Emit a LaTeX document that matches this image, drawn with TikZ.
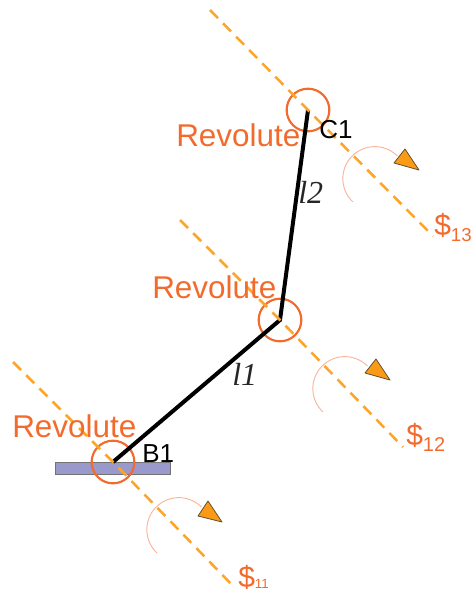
\documentclass[tikz,border=0pt]{standalone}
\usepackage{fontspec}
\setmainfont{Liberation Sans}
\newfontfamily\linkfont[Ligatures=TeX]{Liberation Serif}
\definecolor{jointred}{HTML}{F26B2D}
\definecolor{axisorange}{HTML}{FDA52B}
\definecolor{arcpink}{HTML}{F9B49A}
\definecolor{tipfill}{HTML}{FB9A16}
\definecolor{tipedge}{HTML}{5F5030}
\definecolor{basefill}{HTML}{9999CC}
\tikzset{
    jointcircle/.style={draw=jointred, line width=1.6pt, circle, inner sep=0pt, minimum size=32pt},
    linkline/.style={line width=3pt, black},
    axisline/.style={line width=1.9pt, axisorange, dash pattern=on 8.5pt off 5.5pt},
    twist/.style={line width=0.7pt, arcpink},
    twisttip/.style={draw=tipedge, line width=0.6pt, fill=tipfill, line join=round},
    jointlabel/.style={text=jointred, inner sep=0pt, anchor=base west, font=\fontsize{23.6}{24}\selectfont},
    pointlabel/.style={text=black, inner sep=0pt, anchor=base west, font=\fontsize{19.5}{22}\selectfont},
    lengthlabel/.style={text=black!85, inner sep=0pt, anchor=base west, font=\fontsize{24}{26}\linkfont\itshape},
    screwlabel/.style={text=jointred, inner sep=0pt, anchor=base west, font=\fontsize{22.5}{24}\selectfont}
}
\begin{document}
\begin{tikzpicture}[x=0.75pt, y=-0.75pt]
    \useasboundingbox (0, 0) rectangle (472, 594);

    % base
    \draw[draw=black!55, line width=0.6pt, fill=basefill] (55, 462) rectangle (170, 474);

    % joint circles
    \node[jointcircle] (b1) at (113, 462) {};
    \node[jointcircle] (j2) at (280, 320) {};
    \node[jointcircle] (c1) at (308, 110) {};

    % links
    \draw[linkline] (b1.center) -- (j2.center) -- (c1.center);

    % axes
    \coordinate (axis1a) at (13, 362);
    \coordinate (axis1b) at (235, 588);
    \coordinate (axis2a) at (180, 220);
    \coordinate (axis2b) at (403, 447);
    \coordinate (axis3a) at (210, 10);
    \coordinate (axis3b) at (433, 236);
    \draw[axisline] (axis1a) -- (b1.center) -- (axis1b);
    \draw[axisline] (axis2a) -- (j2.center) -- (axis2b);
    \draw[axisline] (axis3a) -- (c1.center) -- (axis3b);

    % twist arcs and tips
    \draw[twist] (157, 553) arc (133:315:32);
    \draw[twisttip] (208, 501) -- (198, 516) -- (222, 522) -- cycle;
    \draw[twist] (323, 412) arc (133:315:32);
    \draw[twisttip] (376, 359) -- (365, 373) -- (390, 380) -- cycle;
    \draw[twist] (353, 202) arc (133:315:32);
    \draw[twisttip] (405, 149) -- (394, 163) -- (419, 170) -- cycle;

    % labels
    \node[jointlabel] (rev1) at (12, 437) {Revolute};
    \node[jointlabel] (rev2) at (152, 298) {Revolute};
    \node[jointlabel] (rev3) at (176, 146) {Revolute};
    \node[pointlabel] (lb1) at (142, 462) {B1};
    \node[pointlabel] (lc1) at (319, 138) {C1};
    \node[lengthlabel] (l1) at (232, 385) {l1};
    \node[lengthlabel] (l2) at (298, 203) {l2};
    \node[screwlabel] (s13) at (434, 235) {\$\raisebox{-5pt}{\fontsize{14}{16}\selectfont 13}};
    \node[screwlabel] (s12) at (406, 445) {\$\raisebox{-5pt}{\fontsize{15}{16}\selectfont 12}};
    \node[screwlabel] (s11) at (238, 587) {\$\raisebox{-1pt}{\fontsize{10}{11}\selectfont 11}};
\end{tikzpicture}
\end{document}
